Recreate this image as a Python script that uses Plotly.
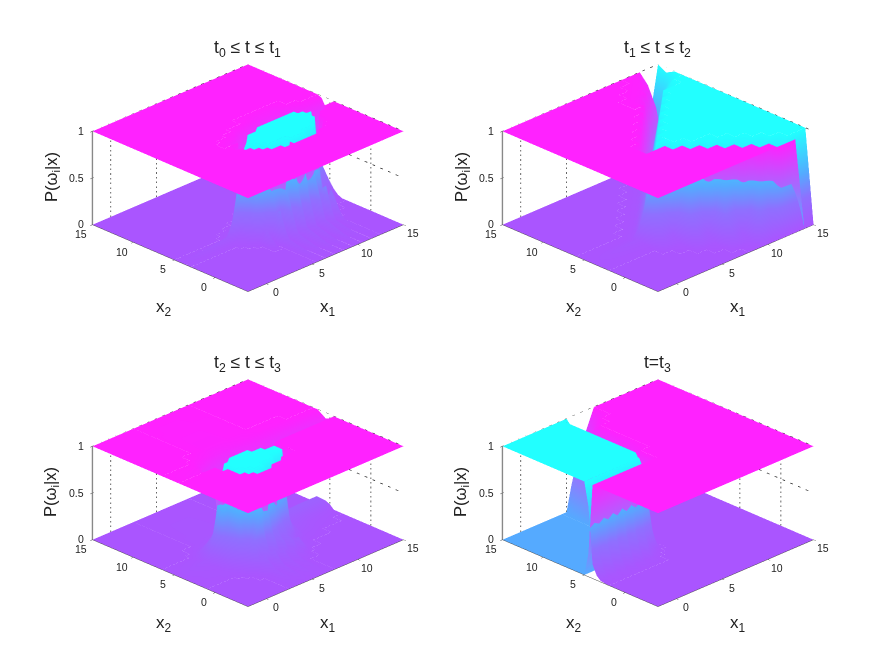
import plotly.graph_objects as go

# axis limits and ticks
x1_range = [-2, 15]
x2_range = [-4, 15]
z_range = [0, 1]
x_ticks = [0, 5, 10, 15]
z_ticks = [0, 0.5, 1]

titles = ["t<sub>0</sub> ≤ t ≤ t<sub>1</sub>", "t<sub>1</sub> ≤ t ≤ t<sub>2</sub>",
          "t<sub>2</sub> ≤ t ≤ t<sub>3</sub>", "t=t<sub>3</sub>"]

# second class posterior in percent, one row per x2 node
p1_x1 = [-2, 3, 3.5, 4, 4.5, 5, 5.5, 6, 6.5, 7, 7.5, 8, 8.5, 9, 9.5, 10, 10.5, 11, 11.5, 12, 12.5, 13, 14, 15]
p1_x2 = [-4, 0, 0.5, 1, 1.5, 2, 2.5, 3, 3.5, 4, 4.5, 5, 5.5, 6, 6.5, 7, 8, 15]
p1_post = [
    [0, 0, 0, 0, 0, 0, 0, 0, 0, 0, 0, 0, 0, 0, 0, 0, 0, 0, 0, 0, 0, 0, 0, 0],
    [0, 0, 0, 0, 0, 0, 0, 8, 0, 10, 0, 12, 0, 10, 0, 12, 0, 8, 0, 4, 0, 0, 0, 0],
    [0, 0, 0, 0, 0, 4, 0, 20, 0, 26, 2, 30, 2, 28, 2, 30, 2, 24, 1, 12, 0, 0, 0, 0],
    [0, 0, 0, 0, 0, 10, 0, 34, 3, 42, 6, 46, 8, 44, 8, 46, 6, 40, 5, 22, 0, 0, 0, 0],
    [0, 0, 0, 0, 0, 14, 5, 30, 15, 50, 45, 70, 60, 75, 50, 60, 25, 35, 10, 30, 2, 0, 0, 0],
    [0, 0, 0, 0, 2, 8, 25, 55, 65, 80, 95, 100, 100, 100, 100, 90, 75, 60, 22, 18, 3, 0, 0, 0],
    [0, 0, 0, 2, 8, 40, 70, 100, 100, 100, 100, 100, 100, 100, 100, 100, 100, 100, 60, 22, 8, 2, 0, 0],
    [0, 0, 1, 4, 20, 90, 100, 100, 100, 100, 100, 100, 100, 100, 100, 100, 100, 100, 100, 50, 15, 4, 0, 0],
    [0, 1, 3, 10, 60, 100, 100, 100, 100, 100, 100, 100, 100, 100, 100, 100, 100, 100, 100, 100, 30, 8, 2, 0],
    [0, 8, 25, 55, 90, 100, 100, 100, 100, 100, 100, 100, 100, 100, 100, 100, 100, 100, 100, 100, 80, 30, 12, 2],
    [0, 2, 5, 10, 40, 75, 100, 100, 100, 100, 100, 100, 100, 100, 100, 100, 100, 100, 100, 100, 100, 55, 28, 6],
    [0, 0, 1, 3, 5, 25, 60, 100, 100, 100, 100, 100, 100, 100, 100, 100, 100, 100, 100, 100, 90, 60, 38, 12],
    [0, 0, 0, 1, 2, 3, 10, 50, 70, 90, 100, 100, 100, 100, 100, 100, 100, 100, 100, 90, 40, 30, 20, 10],
    [0, 0, 0, 0, 0, 1, 2, 8, 20, 40, 55, 70, 75, 80, 80, 80, 80, 80, 65, 40, 15, 5, 3, 2],
    [0, 0, 0, 0, 0, 0, 0, 2, 3, 5, 10, 20, 25, 30, 30, 30, 30, 30, 15, 5, 3, 0, 0, 0],
    [0, 0, 0, 0, 0, 0, 0, 0, 0, 0, 1, 2, 3, 5, 5, 5, 5, 5, 2, 0, 0, 0, 0, 0],
    [0, 0, 0, 0, 0, 0, 0, 0, 0, 0, 0, 0, 0, 0, 0, 0, 0, 0, 0, 0, 0, 0, 0, 0],
    [0, 0, 0, 0, 0, 0, 0, 0, 0, 0, 0, 0, 0, 0, 0, 0, 0, 0, 0, 0, 0, 0, 0, 0],
]

p2_x1 = [-2, 3, 4, 5, 6, 7, 8, 9, 10, 11, 12, 13, 14, 15]
p2_x2 = [-4, -3, -2, -1, 0, 1, 2, 3, 4, 5, 6, 7, 8, 9, 10, 11, 12, 13, 14, 15]
p2_post = [
    [0, 0, 0, 0, 0, 0, 0, 0, 0, 0, 0, 0, 0, 0],
    [0, 0, 0, 0, 0, 0, 0, 4, 30, 30, 86, 100, 100, 100],
    [0, 0, 0, 0, 0, 0, 14, 8, 32, 90, 100, 100, 100, 100],
    [0, 0, 0, 0, 0, 3, 35, 36, 92, 100, 100, 100, 100, 100],
    [0, 0, 0, 0, 14, 10, 38, 96, 100, 100, 100, 100, 100, 100],
    [0, 0, 0, 3, 32, 41, 98, 100, 100, 100, 100, 100, 100, 100],
    [0, 0, 10, 8, 44, 100, 100, 100, 100, 100, 100, 100, 100, 100],
    [0, 1, 25, 47, 100, 100, 100, 100, 100, 100, 100, 100, 100, 100],
    [0, 5, 50, 100, 100, 100, 100, 100, 100, 100, 100, 100, 100, 100],
    [0, 1, 5, 50, 100, 100, 100, 100, 100, 100, 100, 100, 100, 100],
    [0, 0, 1, 5, 50, 100, 100, 100, 100, 100, 100, 100, 100, 100],
    [0, 0, 0, 1, 5, 50, 100, 100, 100, 100, 100, 100, 100, 100],
    [0, 0, 0, 0, 1, 5, 50, 100, 100, 100, 100, 100, 100, 100],
    [0, 0, 0, 0, 0, 1, 5, 50, 100, 100, 100, 100, 100, 100],
    [0, 0, 0, 0, 0, 0, 1, 5, 50, 100, 100, 100, 100, 100],
    [0, 0, 0, 0, 0, 0, 0, 1, 5, 40, 100, 100, 100, 100],
    [0, 0, 0, 0, 0, 0, 0, 0, 1, 3, 35, 90, 100, 100],
    [0, 0, 0, 0, 0, 0, 0, 0, 0, 1, 3, 30, 85, 100],
    [0, 0, 0, 0, 0, 0, 0, 0, 0, 0, 1, 10, 55, 95],
    [0, 0, 0, 0, 0, 0, 0, 0, 0, 0, 0, 0, 40, 100],
]
# along the x2=-4 edge both classes fall away past x1=13
p2_first_edge = [100, 100, 100, 100, 100, 100, 100, 100, 100, 100, 100, 100, 0, 0]
p2_flip_row = 8

p3_x1 = [-2, 1, 1.5, 2, 2.5, 3, 3.5, 4, 4.5, 5, 5.5, 6, 6.5, 7, 7.5, 8, 8.5, 9, 10, 12, 14, 15]
p3_x2 = [-4, -1, 0, 0.5, 1, 1.5, 2, 2.5, 3, 3.5, 4, 4.5, 5, 5.5, 6, 6.5, 7, 8, 15]
p3_post = [
    [0, 0, 0, 0, 0, 0, 0, 0, 0, 0, 0, 0, 0, 0, 0, 0, 0, 0, 0, 0, 0, 0],
    [0, 0, 0, 0, 0, 2, 6, 3, 7, 2, 6, 2, 4, 1, 0, 0, 0, 0, 0, 0, 0, 0],
    [0, 0, 0, 0, 2, 8, 16, 6, 18, 6, 14, 5, 10, 3, 5, 1, 0, 0, 0, 0, 0, 0],
    [0, 0, 0, 2, 6, 18, 10, 28, 12, 26, 10, 20, 8, 16, 6, 10, 2, 0, 0, 0, 0, 0],
    [0, 0, 1, 4, 12, 25, 40, 45, 25, 35, 20, 22, 15, 18, 12, 14, 5, 2, 0, 0, 0, 0],
    [0, 1, 2, 8, 18, 28, 40, 90, 70, 55, 40, 32, 18, 20, 14, 10, 6, 3, 0, 0, 0, 0],
    [0, 1, 4, 14, 30, 40, 90, 100, 100, 100, 90, 70, 50, 35, 22, 16, 8, 4, 1, 0, 0, 0],
    [0, 2, 6, 20, 35, 90, 100, 100, 100, 100, 100, 100, 100, 85, 65, 50, 20, 8, 2, 0, 0, 0],
    [0, 2, 8, 25, 40, 100, 100, 100, 100, 100, 100, 100, 100, 100, 100, 100, 35, 15, 4, 1, 0, 0],
    [0, 3, 10, 30, 45, 100, 100, 100, 100, 100, 100, 100, 100, 100, 100, 100, 40, 20, 6, 2, 0, 0],
    [0, 4, 12, 40, 90, 100, 100, 100, 100, 100, 100, 100, 100, 100, 100, 100, 45, 25, 8, 3, 1, 0],
    [0, 5, 14, 35, 80, 100, 100, 100, 100, 100, 100, 100, 100, 100, 70, 50, 30, 22, 12, 6, 3, 0],
    [0, 3, 10, 20, 30, 50, 90, 100, 100, 100, 100, 100, 80, 50, 30, 25, 20, 18, 16, 14, 11, 4],
    [0, 2, 6, 14, 20, 25, 40, 60, 70, 80, 70, 60, 30, 24, 18, 16, 14, 14, 14, 15, 15, 6],
    [0, 1, 3, 8, 12, 16, 18, 22, 28, 30, 25, 20, 16, 14, 12, 11, 10, 10, 10, 10, 8, 3],
    [0, 0, 1, 3, 5, 8, 10, 12, 14, 14, 12, 10, 9, 8, 7, 6, 5, 5, 5, 3, 2, 0],
    [0, 0, 0, 1, 2, 3, 4, 5, 6, 6, 5, 4, 4, 3, 3, 2, 2, 1, 1, 0, 0, 0],
    [0, 0, 0, 0, 0, 1, 1, 2, 2, 2, 2, 2, 1, 1, 1, 1, 0, 0, 0, 0, 0, 0],
    [0, 0, 0, 0, 0, 0, 0, 0, 0, 0, 0, 0, 0, 0, 0, 0, 0, 0, 0, 0, 0, 0],
]

p4_x1 = [-2, -1.5, -1, -0.5, 0, 0.5, 1, 1.5, 2, 2.5, 3, 3.5, 4, 4.5, 5, 5.5, 6, 7, 8, 15]
p4_x2 = [-4, 2, 3, 3.5, 4, 4.5, 5, 6, 12, 13, 14, 15]
p4_post = [
    [0, 0, 0, 0, 0, 0, 0, 0, 0, 0, 0, 0, 0, 0, 0, 0, 0, 0, 0, 0],
    [0, 0, 0, 0, 0, 0, 0, 0, 0, 0, 0, 0, 0, 0, 0, 0, 0, 0, 0, 0],
    [1, 3, 1, 4, 1, 4, 1, 5, 1, 4, 1, 3, 1, 0, 0, 0, 0, 0, 0, 0],
    [5, 15, 6, 18, 7, 20, 7, 22, 8, 20, 7, 15, 5, 2, 0, 0, 0, 0, 0, 0],
    [15, 30, 18, 35, 20, 38, 20, 40, 22, 38, 20, 32, 15, 8, 2, 0, 0, 0, 0, 0],
    [75, 75, 75, 75, 75, 75, 75, 75, 75, 75, 75, 75, 70, 55, 20, 3, 0, 0, 0, 0],
    [100, 100, 100, 100, 100, 100, 100, 100, 100, 100, 100, 100, 100, 85, 30, 5, 0, 0, 0, 0],
    [100, 100, 100, 100, 100, 100, 100, 100, 100, 100, 100, 100, 100, 100, 40, 5, 0, 0, 0, 0],
    [100, 100, 100, 100, 100, 100, 100, 100, 100, 100, 100, 100, 100, 100, 70, 20, 0, 0, 0, 0],
    [100, 100, 100, 100, 100, 100, 100, 100, 100, 100, 100, 100, 100, 100, 85, 40, 10, 0, 0, 0],
    [100, 100, 100, 100, 100, 100, 100, 100, 100, 100, 100, 100, 100, 100, 90, 65, 35, 10, 0, 0],
    [100, 100, 100, 100, 100, 100, 100, 100, 100, 100, 100, 100, 100, 100, 100, 75, 55, 25, 0, 0],
]

# from this x2 on the first surface is shaded by the whole posterior, below it only past 50%
halo_from = [5, 11, 5, 12]

first_colors = [[0, "#55aaff"], [1, "#ff22ff"]]
second_colors = [[0, "#aa55ff"], [0.3, "#8f70ff"], [0.55, "#55aaff"], [1, "#22ffff"]]
flat_light = dict(ambient=1, diffuse=0, specular=0, roughness=1, fresnel=0)
text_color = "#222222"

# pixel centre of each scene in the 882x658 picture, 8px body margin taken off
page_margin = 8
centres = [(247.5, 177.5), (657.5, 177.5), (247.5, 492.5), (657.5, 492.5)]
half_w, half_h = 200, 150
W, H = 882, 658

panels = [(p1_x1, p1_x2, p1_post), (p2_x1, p2_x2, p2_post),
          (p3_x1, p3_x2, p3_post), (p4_x1, p4_x2, p4_post)]


def grid_lines():
    xs, ys, zs = [], [], []
    # wall at x2 max
    for t in x_ticks[:-1]:
        xs += [t, t, None]; ys += [x2_range[1], x2_range[1], None]; zs += [0, 1, None]
    # wall at x1 max
    for t in x_ticks[:-1]:
        xs += [x1_range[1], x1_range[1], None]; ys += [t, t, None]; zs += [0, 1, None]
    for z in z_ticks[1:]:
        xs += [x1_range[0], x1_range[1], x1_range[1], None]
        ys += [x2_range[1], x2_range[1], x2_range[0], None]
        zs += [z, z, z, None]
    return xs, ys, zs


def tick_labels():
    font = dict(family="Liberation Sans", size=10.5, color=text_color)
    labels = []
    for t in x_ticks:
        labels.append(dict(x=t, y=x2_range[0], z=0, text=str(t), showarrow=False, font=font,
                           xshift=10, yshift=-9))
        labels.append(dict(x=x1_range[0], y=t, z=0, text=str(t), showarrow=False, font=font,
                           xshift=-11, yshift=-10))
    for t in z_ticks:
        labels.append(dict(x=x1_range[0], y=x2_range[1], z=t, text=str(t), showarrow=False, font=font,
                           xanchor="right", xshift=-6))
    return labels


def add_surface(x1, x2, z, colors, scene):
    fig.add_trace(go.Surface(x=x1, y=x2, z=z, surfacecolor=z, cmin=0, cmax=1, colorscale=colors,
                             showscale=False, lighting=flat_light, scene=scene))


fig = go.Figure()
annotations = []
for i, (x1, x2, post) in enumerate(panels):
    scene = "scene" if i == 0 else f"scene{i + 1}"
    second = [[v / 100 for v in row] for row in post]
    first = []
    for y, row in zip(x2, second):
        if y >= halo_from[i]:
            first.append([1 - v for v in row])
        else:
            first.append([1 if v < 0.5 else 1 - v for v in row])
    if i == 1:
        first[0] = [v / 100 for v in p2_first_edge]
        # front half with rows reversed so the mesh diagonals follow the falling boundary
        n = p2_flip_row + 1
        add_surface(x1, x2[:n][::-1], first[:n][::-1], first_colors, scene)
        add_surface(x1, x2[:n][::-1], second[:n][::-1], second_colors, scene)
        add_surface(x1, x2[p2_flip_row:], first[p2_flip_row:], first_colors, scene)
        add_surface(x1, x2[p2_flip_row:], second[p2_flip_row:], second_colors, scene)
    else:
        add_surface(x1, x2, first, first_colors, scene)
        add_surface(x1, x2, second, second_colors, scene)

    gx, gy, gz = grid_lines()
    fig.add_trace(go.Scatter3d(x=gx, y=gy, z=gz, mode="lines", showlegend=False,
                               line=dict(color="#333333", width=1.5, dash="dot"), scene=scene))

    cx, cy = centres[i]
    cx, cy = cx - page_margin, cy - page_margin
    axis_common = dict(showgrid=False, showbackground=False, zeroline=False, showspikes=False,
                       showline=True, ticks="outside", ticklen=3,
                       tickcolor="#444444", showticklabels=False,
                       title=dict(text=""))
    fig.update_layout({scene: dict(
        domain=dict(x=[(cx - half_w) / W, (cx + half_w) / W],
                    y=[1 - (cy + half_h) / H, 1 - (cy - half_h) / H]),
        xaxis=dict(range=x1_range, tickvals=x_ticks, linecolor="#444444", **axis_common),
        yaxis=dict(range=x2_range, tickvals=x_ticks, linecolor="#444444", **axis_common),
        zaxis=dict(range=z_range, tickvals=z_ticks, linecolor="#888888", linewidth=3, **axis_common),
        aspectmode="manual", aspectratio=dict(x=1.467, y=1.467, z=0.69),
        camera=dict(projection=dict(type="orthographic"), eye=dict(x=-0.85, y=-0.85, z=0.573),
                    center=dict(x=0, y=0, z=0), up=dict(x=0, y=0, z=1)),
        annotations=tick_labels(),
    )})

    font = dict(family="Liberation Sans", color=text_color)
    for text, px, py, size, angle in [
        (titles[i], cx, cy - 129.5, 17.5, 0),
        ("P(ω<sub>i</sub>|x)", cx - 196, cy, 16.5, -90),
        ("x<sub>2</sub>", cx - 84, cy + 131, 17, 0),
        ("x<sub>1</sub>", cx + 80, cy + 131, 17, 0),
    ]:
        annotations.append(dict(text=text, x=px / W, y=1 - py / H, xref="paper", yref="paper",
                                showarrow=False, textangle=angle, xanchor="center", yanchor="middle",
                                font=dict(size=size, **font)))

fig.update_layout(width=W, height=H, margin=dict(l=0, r=0, t=0, b=0), showlegend=False,
                  paper_bgcolor="white", annotations=annotations)
fig.write_html("out.html")
